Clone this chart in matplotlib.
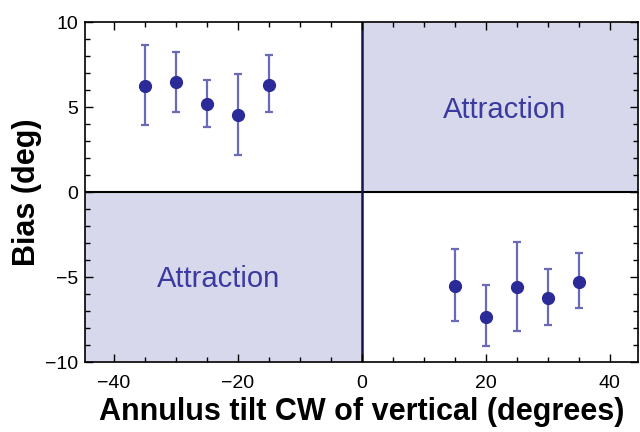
import matplotlib
matplotlib.use("Agg")
import matplotlib.pyplot as plt
from matplotlib.ticker import MultipleLocator

plt.rcParams['font.family'] = ['Liberation Sans', 'DejaVu Sans']

tilt = [-35, -30, -25, -20, -15, 15, 20, 25, 30, 35]
bias = [6.26, 6.5, 5.15, 4.55, 6.3, -5.5, -7.35, -5.6, -6.25, -5.3]
err_hi = [8.65, 8.25, 6.6, 6.95, 8.05, -3.35, -5.45, -2.95, -4.55, -3.6]
err_lo = [3.95, 4.7, 3.8, 2.15, 4.7, -7.6, -9.05, -8.15, -7.85, -6.8]
region_label = "Attraction"

fig = plt.figure(figsize=(6.4, 4.32), dpi=100)
ax = fig.add_axes([0.133, 0.162, 0.864, 0.787])
xlim = (-44.6, 44.6)
ylim = (-10, 10)
ax.set_xlim(*xlim)
ax.set_ylim(*ylim)

shade = '#d8d8ec'
ax.fill_between([0, xlim[1]], 0, ylim[1], color=shade, zorder=0, linewidth=0)
ax.fill_between([xlim[0], 0], ylim[0], 0, color=shade, zorder=0, linewidth=0)
ax.axhline(0, color='black', lw=1.5, zorder=1)
ax.axvline(0, color='#151550', lw=1.8, zorder=1)

lower = [b - l for b, l in zip(bias, err_lo)]
upper = [h - b for b, h in zip(bias, err_hi)]
ax.errorbar(tilt, bias, yerr=[lower, upper], fmt='none', ecolor='#6a6ab8',
            elinewidth=1.6, capsize=3.2, capthick=1.6, zorder=2)
ax.plot(tilt, bias, 'o', color='#2a2a98', markersize=8.5, zorder=3)

ax.text(23, 4.35, region_label, color='#3a3aa0', fontsize=21, ha='center', va='baseline')
ax.text(-23, -5.6, region_label, color='#3a3aa0', fontsize=21, ha='center', va='baseline')

ax.xaxis.set_major_locator(MultipleLocator(20))
ax.xaxis.set_minor_locator(MultipleLocator(5))
ax.yaxis.set_major_locator(MultipleLocator(5))
ax.yaxis.set_minor_locator(MultipleLocator(1))
ax.tick_params(which='both', direction='in', top=True, right=True, labelsize=14, width=1)
ax.tick_params(which='major', length=6)
ax.tick_params(which='minor', length=3.5)
ax.tick_params(axis='x', which='major', pad=9)
ax.tick_params(axis='y', which='major', pad=5)
for s in ax.spines.values():
    s.set_linewidth(1.2)

ax.set_xlabel('Annulus tilt CW of vertical (degrees)', fontsize=22, fontweight='bold', labelpad=4)
ax.set_ylabel('Bias (deg)', fontsize=22, fontweight='bold', labelpad=2)

fig.savefig('out.png', dpi=100)
